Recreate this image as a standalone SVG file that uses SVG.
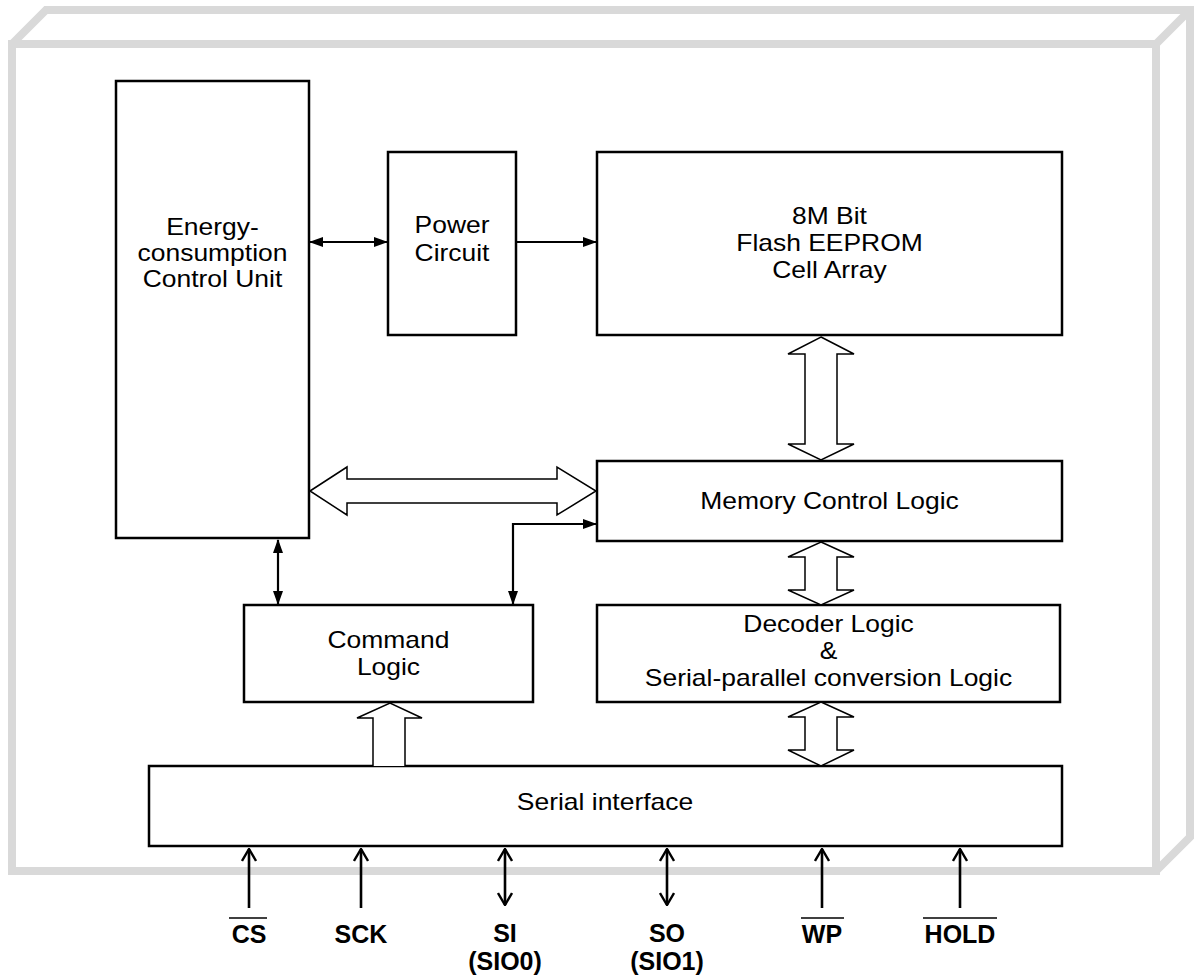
<svg xmlns="http://www.w3.org/2000/svg" width="1196" height="979" viewBox="0 0 1196 979">
<defs>
<style>
.frame{fill:none;stroke:#d9d9d9;stroke-width:8;stroke-linejoin:miter}
.box{fill:#fff;stroke:#000;stroke-width:2.5}
.t{font-family:"Liberation Sans",Arial,sans-serif;font-size:23px;fill:#000;text-anchor:middle}
.b{font-family:"Liberation Sans",Arial,sans-serif;font-size:25px;font-weight:bold;fill:#000;text-anchor:middle}
.ln{fill:none;stroke:#000;stroke-width:2.2}
.hollow{fill:#fff;stroke:#000;stroke-width:1.5;stroke-linejoin:miter}
.pin{fill:none;stroke:#000;stroke-width:2.6}
.ol{stroke:#000;stroke-width:1.6}
</style>
<marker id="fa" viewBox="0 0 14 10" refX="13" refY="5" markerWidth="14" markerHeight="10" markerUnits="userSpaceOnUse" orient="auto-start-reverse">
<path d="M0,0 L14,5 L0,10 Z" fill="#000"/>
</marker>
<marker id="oa" viewBox="0 0 14 16" refX="13" refY="8" markerWidth="14" markerHeight="16" markerUnits="userSpaceOnUse" orient="auto-start-reverse">
<path d="M1,1 L13,8 L1,15" fill="none" stroke="#000" stroke-width="2.4"/>
</marker>
</defs>
<rect width="1196" height="979" fill="#fff"/>
<g id="frame">
<path class="frame" d="M12,44 L1156,44 L1156,871 L12,871 Z"/>
<path class="frame" d="M12,44 L46,10 L1190,10 L1190,837 L1156,871 M1156,44 L1190,10"/>
</g>
<g id="energy">
<rect class="box" x="116" y="81" width="193" height="457"/>
<text class="t" transform="translate(212.5,235) scale(1.15,1)">Energy-</text>
<text class="t" transform="translate(212.5,261) scale(1.15,1)">consumption</text>
<text class="t" transform="translate(212.5,287) scale(1.15,1)">Control Unit</text>
</g>
<g id="power">
<rect class="box" x="388" y="152" width="128" height="183"/>
<text class="t" transform="translate(452,233) scale(1.15,1)">Power</text>
<text class="t" transform="translate(452,261) scale(1.15,1)">Circuit</text>
</g>
<g id="flash">
<rect class="box" x="597" y="152" width="465" height="183"/>
<text class="t" transform="translate(829.5,224) scale(1.15,1)">8M Bit</text>
<text class="t" transform="translate(829.5,251) scale(1.15,1)">Flash EEPROM</text>
<text class="t" transform="translate(829.5,278) scale(1.15,1)">Cell Array</text>
</g>
<g id="memory">
<rect class="box" x="597" y="461" width="465" height="80"/>
<text class="t" transform="translate(829.5,509) scale(1.15,1)">Memory Control Logic</text>
</g>
<g id="command">
<rect class="box" x="244" y="605" width="289" height="97"/>
<text class="t" transform="translate(388.5,648) scale(1.15,1)">Command</text>
<text class="t" transform="translate(388.5,675) scale(1.15,1)">Logic</text>
</g>
<g id="decoder">
<rect class="box" x="597" y="605" width="463" height="97"/>
<text class="t" transform="translate(828.5,632) scale(1.15,1)">Decoder Logic</text>
<text class="t" transform="translate(828.5,659) scale(1.15,1)">&amp;</text>
<text class="t" transform="translate(828.5,686) scale(1.15,1)">Serial-parallel conversion Logic</text>
</g>
<g id="serial">
<rect class="box" x="149" y="766" width="913" height="80"/>
<text class="t" transform="translate(605,810) scale(1.15,1)">Serial interface</text>
</g>
<g id="connectors">
<line class="ln" x1="310" y1="242" x2="387" y2="242" marker-start="url(#fa)" marker-end="url(#fa)"/>
<line class="ln" x1="517" y1="242" x2="596" y2="242" marker-end="url(#fa)"/>
<line class="ln" x1="278" y1="540" x2="278" y2="604" marker-start="url(#fa)" marker-end="url(#fa)"/>
<polyline class="ln" points="513,604 513,524 596,524" marker-start="url(#fa)" marker-end="url(#fa)"/>
<polygon class="hollow" points="821,337 854,354 837,354 837,444 854,444 821,460 788,444 805,444 805,354 788,354"/>
<polygon class="hollow" points="310,491 347,467 347,479 557,479 557,467 596,491 557,515 557,503 347,503 347,515"/>
<polygon class="hollow" points="821,542 854,557 837,557 837,590 854,590 821,605 788,590 805,590 805,557 788,557"/>
<polygon class="hollow" points="821,702 854,717 837,717 837,750 854,750 821,766 788,750 805,750 805,717 788,717"/>
<path class="hollow" d="M373,766 L373,718 L357,718 L390,703 L422,718 L405,718 L405,766"/>
<line class="pin" x1="249" y1="908" x2="249" y2="849" marker-end="url(#oa)"/>
<line class="pin" x1="361" y1="908" x2="361" y2="849" marker-end="url(#oa)"/>
<line class="pin" x1="505" y1="905" x2="505" y2="849" marker-start="url(#oa)" marker-end="url(#oa)"/>
<line class="pin" x1="667" y1="905" x2="667" y2="849" marker-start="url(#oa)" marker-end="url(#oa)"/>
<line class="pin" x1="822" y1="908" x2="822" y2="849" marker-end="url(#oa)"/>
<line class="pin" x1="960" y1="908" x2="960" y2="849" marker-end="url(#oa)"/>
</g>
<g id="pins">
<text class="b" x="249" y="943">CS</text>
<line class="ol" x1="229" y1="918" x2="267" y2="918"/>
<text class="b" x="361" y="943">SCK</text>
<text class="b" x="505" y="942">SI</text>
<text class="b" x="505" y="970">(SIO0)</text>
<text class="b" x="667" y="942">SO</text>
<text class="b" x="667" y="970">(SIO1)</text>
<text class="b" x="822" y="943">WP</text>
<line class="ol" x1="801" y1="918" x2="844" y2="918"/>
<text class="b" x="960" y="943">HOLD</text>
<line class="ol" x1="923" y1="918" x2="997" y2="918"/>
</g>
</svg>
